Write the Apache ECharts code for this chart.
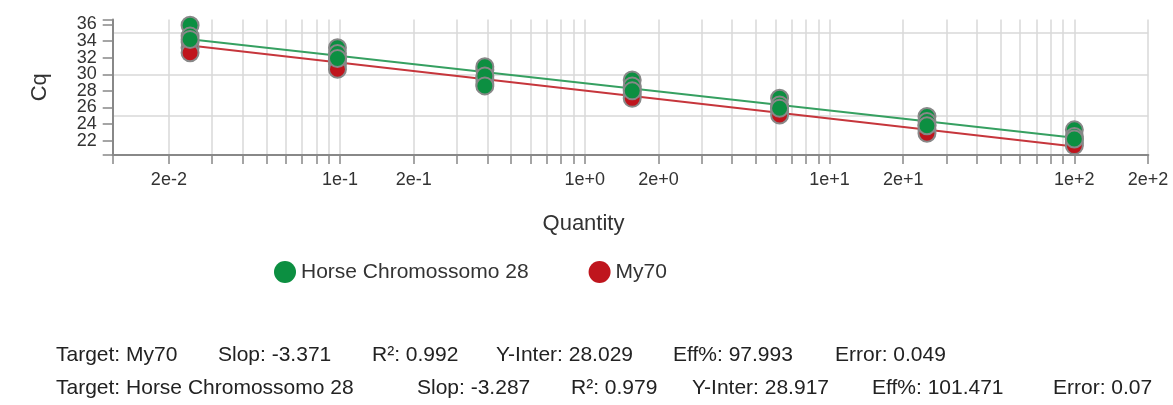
<!DOCTYPE html>
<html>
<head>
<meta charset="utf-8">
<script src="https://cdn.jsdelivr.net/npm/echarts@6/dist/echarts.min.js"></script>
<style>
html,body{margin:0;padding:0;background:#fff;}
#chart{width:1173px;height:405px;}
</style>
</head>
<body>
<div id="chart"></div>
<script>
// ---- data ----
const quantities = [0.0244140625, 0.09765625, 0.390625, 1.5625, 6.25, 25, 100];
const horseCq = [
  [35.9, 34.6, 34.2],
  [33.2, 32.5, 31.9],
  [30.9, 29.8, 28.6],
  [29.3, 28.6, 28.0],
  [27.1, 26.3, 25.9],
  [24.9, 24.3, 23.8],
  [23.3, 22.5, 22.2]
];
const my70Cq = [
  [33.9, 33.2, 32.6],
  [31.8, 31.2, 30.6],
  [30.5, 29.4, 28.8],
  [28.2, 27.6, 27.1],
  [26.0, 25.5, 25.1],
  [23.9, 23.4, 22.9],
  [22.2, 21.7, 21.4]
];
const fitQuantities = [0.0244140625, 100];
const horseFit = [34.22, 22.34];
const my70Fit = [33.46, 21.29];
const seriesNames = ['Horse Chromossomo 28', 'My70'];
const xMin = 0.01179, xMax = 200.5;
const yMin = 20.27, yMax = 36.6;
const xTickValues = [0.01179, 0.02, 0.03, 0.04, 0.05, 0.06, 0.07, 0.08, 0.09,
  0.1, 0.2, 0.3, 0.4, 0.5, 0.6, 0.7, 0.8, 0.9,
  1, 2, 3, 4, 5, 6, 7, 8, 9,
  10, 20, 30, 40, 50, 60, 70, 80, 90,
  100, 200];
const xLabelValues = [0.02, 0.1, 0.2, 1, 2, 10, 20, 100, 200];
const yTickValues = [20.27, 22, 24, 26, 28, 30, 32, 34, 36, 36.6];
const yLabelValuesA = [22, 26, 30, 34];
const yLabelValuesB = [24, 28, 32, 36];
const yGridValues = [25, 30, 35];
const statsMy70 = ['Target: My70', 'Slop: -3.371', 'R\u00b2: 0.992', 'Y-Inter: 28.029', 'Eff%: 97.993', 'Error: 0.049'];
const statsHorse = ['Target: Horse Chromossomo 28', 'Slop: -3.287', 'R\u00b2: 0.979', 'Y-Inter: 28.917', 'Eff%: 101.471', 'Error: 0.07'];

// ---- build ----
function pairs(cqs) {
  const out = [];
  quantities.forEach((q, i) => cqs[i].forEach(v => out.push([q, v])));
  return out;
}
function fitPairs(vals) { return fitQuantities.map((q, i) => [q, vals[i]]); }

const FONT = "'Liberation Sans', Arial, sans-serif";
const GREEN = '#0c8f41', RED = '#bf151d';

const statXs1 = [56, 218, 372, 496, 673, 835];
const statXs2 = [56, 417, 571, 692, 872, 1053];
const graphics = [];
statsMy70.forEach((t, i) => graphics.push({type: 'text', left: statXs1[i], top: 345, style: {text: t, font: '21px ' + FONT, fill: '#222'}}));
statsHorse.forEach((t, i) => graphics.push({type: 'text', left: statXs2[i], top: 378, style: {text: t, font: '21px ' + FONT, fill: '#222'}}));

const yLabelStyle = {margin: 16, fontFamily: FONT, fontSize: 18, color: '#333', showMinLabel: true, showMaxLabel: true};

const chart = echarts.init(document.getElementById('chart'), null, {renderer: 'canvas'});
chart.setOption({
  animation: false,
  backgroundColor: '#fff',
  grid: {left: 112.7, right: 24.7, top: 19.5, bottom: 250, containLabel: false},
  legend: {
    data: seriesNames,
    left: 269, top: 256,
    icon: 'circle', itemWidth: 22, itemHeight: 22, itemGap: 60,
    itemStyle: {borderWidth: 0},
    textStyle: {fontFamily: FONT, fontSize: 21, color: '#333'}
  },
  xAxis: {
    type: 'log', logBase: 10, min: xMin, max: xMax,
    name: 'Quantity', nameLocation: 'middle', nameGap: 58,
    nameTextStyle: {fontFamily: FONT, fontSize: 22, color: '#333', padding: [0, 94, 0, 0]},
    axisLine: {show: true, onZero: false, lineStyle: {color: '#888', width: 2}},
    axisTick: {show: true, length: 9, customValues: xTickValues, lineStyle: {color: '#888', width: 1.5}},
    axisLabel: {customValues: xLabelValues, margin: 16, fontFamily: FONT, fontSize: 18, color: '#333',
      showMinLabel: true, showMaxLabel: true,
      formatter: v => Number(v).toExponential()},
    splitLine: {show: true, lineStyle: {color: '#d9d9d9', width: 1.5}},
    minorTick: {show: false}, minorSplitLine: {show: false}
  },
  yAxis: [{
    type: 'value', min: yMin, max: yMax,
    name: 'Cq', nameLocation: 'middle', nameGap: 62,
    nameTextStyle: {fontFamily: FONT, fontSize: 22, color: '#333'},
    axisLine: {show: true, lineStyle: {color: '#888', width: 2}},
    axisTick: {show: true, length: 10, customValues: yTickValues, lineStyle: {color: '#888', width: 1.5}},
    axisLabel: Object.assign({customValues: yLabelValuesA}, yLabelStyle),
    splitLine: {show: false}
  }, {
    type: 'value', min: yMin, max: yMax, position: 'left', offset: 0,
    axisLine: {show: false}, axisTick: {show: false},
    axisLabel: Object.assign({customValues: yLabelValuesB}, yLabelStyle),
    splitLine: {show: false}
  }, {
    type: 'value', min: yMin, max: yMax, position: 'left',
    axisLine: {show: false}, axisLabel: {show: false},
    axisTick: {show: false, customValues: yGridValues},
    splitLine: {show: true, lineStyle: {color: '#d9d9d9', width: 1.5}}
  }],
  series: [
    {name: seriesNames[1] + ' fit', type: 'line', data: fitPairs(my70Fit), symbol: 'none', silent: true,
      lineStyle: {color: '#c6363c', width: 2}, z: 2, legendHoverLink: false},
    {name: seriesNames[0] + ' fit', type: 'line', data: fitPairs(horseFit), symbol: 'none', silent: true,
      lineStyle: {color: '#36a061', width: 2}, z: 2, legendHoverLink: false},
    {name: seriesNames[1], type: 'scatter', data: pairs(my70Cq), symbolSize: 17, z: 3,
      itemStyle: {color: RED, borderColor: '#888', borderWidth: 2, opacity: 1}},
    {name: seriesNames[0], type: 'scatter', data: pairs(horseCq), symbolSize: 17, z: 4,
      itemStyle: {color: GREEN, borderColor: '#888', borderWidth: 2, opacity: 1}}
  ],
  graphic: graphics
});
</script>
</body>
</html>
